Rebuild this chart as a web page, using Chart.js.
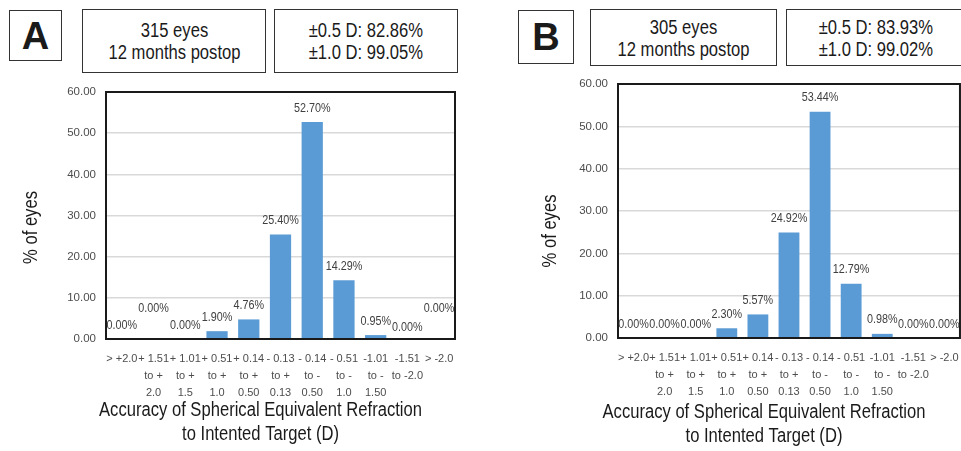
<!DOCTYPE html>
<html>
<head>
<meta charset="utf-8">
<script src="https://cdn.jsdelivr.net/npm/chart.js@4.4.0/dist/chart.umd.min.js"></script>
<style>
  body { margin:0; width:961px; height:451px; overflow:hidden; background:#fff; position:relative;
         font-family:"Liberation Sans",Arial,sans-serif; }
  .box { position:absolute; box-sizing:border-box; border:1px solid #333; display:flex; align-items:center;
         justify-content:center; text-align:center; color:#1a1a1a; font-size:20px; line-height:22px; }
  .box span { display:inline-block; transform:scaleX(0.83); white-space:nowrap; }
  .letter { font-weight:bold; font-size:38px; }
  canvas { position:absolute; top:0; }
</style>
</head>
<body>

<div class="box letter" style="left:9px;top:10px;width:53px;height:51px;">A</div>
<div class="box" style="left:82px;top:9px;width:184px;height:64px;"><span>315 eyes<br>12 months postop</span></div>
<div class="box" style="left:274px;top:9px;width:184px;height:64px;"><span>±0.5 D: 82.86%<br>±1.0 D: 99.05%</span></div>

<div class="box letter" style="left:518px;top:10px;width:56px;height:54px;">B</div>
<div class="box" style="left:590px;top:9px;width:187px;height:57px;"><span>305 eyes<br>12 months postop</span></div>
<div class="box" style="left:786px;top:9px;width:180px;height:57px;"><span>±0.5 D: 83.93%<br>±1.0 D: 99.02%</span></div>

<canvas id="chartA" width="480" height="451" style="left:0px;"></canvas>
<canvas id="chartB" width="490" height="451" style="left:480px;"></canvas>

<script>
// refraction ranges (D), wrapped the way the axis shows them
var categories = [
  ['> +2.0'],
  ['+ 1.51', 'to +', '2.0'],
  ['+ 1.01', 'to +', '1.5'],
  ['+ 0.51', 'to +', '1.0'],
  ['+ 0.14', 'to +', '0.50'],
  ['- 0.13', 'to +', '0.13'],
  ['- 0.14', 'to -', '0.50'],
  ['- 0.51', 'to -', '1.0'],
  ['-1.01', 'to -', '1.50'],
  ['-1.51', 'to -2.0'],
  ['> -2.0']
];

// % of eyes
var eyesA = [0.00, 0.00, 0.00, 1.90, 4.76, 25.40, 52.70, 14.29, 0.95, 0.00, 0.00];
var eyesB = [0.00, 0.00, 0.00, 2.30, 5.57, 24.92, 53.44, 12.79, 0.98, 0.00, 0.00];

var yTicks = [0, 10, 20, 30, 40, 50, 60];

var yTitle = '% of eyes';
var xTitle = ['Accuracy of Spherical Equivalent Refraction', 'to Intented Target (D)'];

// extra lift of some value labels (px), like the hand-placed ones in the figure
var labelLiftA = [0, 17, 0, 0, 0, 0, 0, 0, 0, -2, 17];
var labelLiftB = [0, 0, 0, 0, 0, 0, 0, 0, 0, 0, 0];

var sans = '"Liberation Sans", Arial, sans-serif';
var squeeze = 0.83;   // the figure uses a narrow face, no narrow face here

var frame = {
  id: 'frame',
  afterDatasetsDraw: function(chart) {
    var a = chart.chartArea, ctx = chart.ctx;
    ctx.save();
    ctx.strokeStyle = '#1a1a1a';
    ctx.lineWidth = 2;
    ctx.strokeRect(a.left, a.top, a.right - a.left, a.bottom - a.top);
    ctx.restore();
  }
};

var valueLabels = {
  id: 'valueLabels',
  afterDatasetsDraw: function(chart, args, opts) {
    var ctx = chart.ctx;
    var vals = chart.data.datasets[0].data;
    ctx.save();
    ctx.font = '13px ' + sans;
    ctx.fillStyle = '#404040';
    ctx.textAlign = 'center';
    ctx.textBaseline = 'middle';
    chart.getDatasetMeta(0).data.forEach(function(bar, i) {
      ctx.save();
      ctx.translate(bar.x, bar.y - 14 - opts.lift[i]);
      ctx.scale(squeeze, 1);
      ctx.fillText(vals[i].toFixed(2) + '%', 0, 0);
      ctx.restore();
    });
    ctx.restore();
  }
};

var captions = {
  id: 'captions',
  afterDraw: function(chart, args, opts) {
    var a = chart.chartArea, ctx = chart.ctx;
    ctx.save();
    ctx.fillStyle = '#1a1a1a';
    ctx.font = '20px ' + sans;
    ctx.textAlign = 'center';
    ctx.textBaseline = 'middle';
    var cx = (a.left + a.right) / 2 + opts.xShift;
    xTitle.forEach(function(line, i) {
      ctx.save();
      ctx.translate(cx, a.bottom + opts.xGap + i * 24);
      ctx.scale(squeeze, 1);
      ctx.fillText(line, 0, 0);
      ctx.restore();
    });
    ctx.translate(a.left - opts.yGap, (a.top + a.bottom) / 2 + opts.yShift);
    ctx.rotate(-Math.PI / 2);
    ctx.scale(squeeze, 1);
    ctx.fillText(yTitle, 0, 0);
    ctx.restore();
  }
};

function makeChart(id, values, lift, box) {
  var ctx = document.getElementById(id).getContext('2d');
  return new Chart(ctx, {
    type: 'bar',
    data: {
      labels: categories,
      datasets: [{
        data: values,
        backgroundColor: '#5b9bd5',
        borderWidth: 0,
        barPercentage: 0.67,
        categoryPercentage: 1
      }]
    },
    options: {
      responsive: false,
      animation: false,
      events: [],
      layout: { padding: { top: box.top, right: box.right, bottom: 0, left: 0 } },
      plugins: {
        legend: { display: false },
        tooltip: { enabled: false },
        valueLabels: { lift: lift },
        captions: { xShift: box.xShift, xGap: box.xGap, yGap: box.yGap, yShift: box.yShift }
      },
      scales: {
        x: {
          grid: { display: false, drawTicks: false },
          border: { display: false },
          ticks: {
            autoSkip: false, maxRotation: 0, minRotation: 0, padding: 11,
            color: '#4d4d4d',
            font: { family: sans, size: 11, lineHeight: 1.55 }
          },
          afterFit: function(scale) { scale.height = box.xHeight; }
        },
        y: {
          min: 0, max: 60,
          afterBuildTicks: function(scale) {
            scale.ticks = yTicks.map(function(v) { return { value: v }; });
          },
          grid: { color: '#d9d9d9', lineWidth: 1.5, drawTicks: false },
          border: { display: false },
          ticks: {
            padding: 10,
            color: '#4d4d4d',
            font: { family: sans, size: 11.5 },
            callback: function(v) { return Number(v).toFixed(2); }
          },
          afterFit: function(scale) { scale.width = box.yWidth; }
        }
      }
    },
    plugins: [frame, valueLabels, captions]
  });
}

makeChart('chartA', eyesA, labelLiftA,
  { top: 92, right: 25, xHeight: 112, yWidth: 106, xShift: -20, xGap: 71, yGap: 75, yShift: 12 });
makeChart('chartB', eyesB, labelLiftB,
  { top: 84, right: 8, xHeight: 113, yWidth: 138, xShift: -25, xGap: 74, yGap: 68, yShift: 20 });
</script>
</body>
</html>
